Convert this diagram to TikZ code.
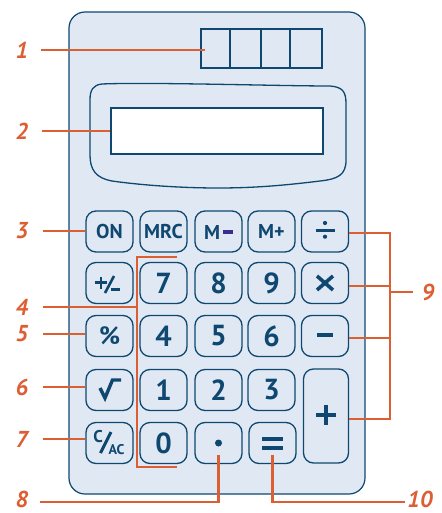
\documentclass[tikz,border=0pt]{standalone}
\usepackage{fontspec}
\setmainfont{PT Sans}
\usetikzlibrary{calc}
\definecolor{navy}{HTML}{0E4770}
\definecolor{casefill}{HTML}{E0E8F4}
\definecolor{callout}{HTML}{DC5E33}
\definecolor{memdash}{HTML}{3A2F8E}
\begin{document}
\begin{tikzpicture}[x=1pt,y=-1pt,
  casing/.style={draw=navy,fill=casefill,line width=1.2pt,rounded corners=16pt},
  key/.style={draw=navy,line width=1.3pt,rounded corners=10pt,minimum width=47pt,
    minimum height=41pt,inner sep=0pt,text=navy,font=\bfseries\fontsize{29}{29}\selectfont},
  wordkey/.style={key,font=\bfseries\fontsize{20}{20}\selectfont},
  glyph/.style={navy,line width=3.6pt},
  lbl/.style={text=callout,font=\bfseries\itshape\fontsize{23}{23}\selectfont,inner sep=0pt},
  lead/.style={draw=callout,line width=2.2pt}]
\useasboundingbox (0,0) rectangle (441,513);

% calculator body
\draw[casing] (69,12) rectangle (365,494);

% solar cell strip
\node[draw=navy,line width=1.1pt,minimum width=121pt,minimum height=39pt,inner sep=0pt]
  (panel) at (261.5,48.5) {};
\draw[navy,line width=2.6pt] (230,29) -- (230,68) (290,29) -- (290,68);
\draw[navy,line width=1.2pt] (261,29) -- (261,68);

% display bezel and screen
\draw[navy,line width=1.3pt] (102,84) .. controls (150,82) and (280,86) .. (330,86)
  .. controls (343,87) and (346,92) .. (346,104) -- (346,160)
  .. controls (346,175) and (338,179) .. (320,181)
  .. controls (280,186) and (250,188) .. (218,188)
  .. controls (180,188) and (140,185) .. (112,181)
  .. controls (96,178) and (90,170) .. (90,155) -- (90,100)
  .. controls (90,90) and (93,85) .. (102,84) -- cycle;
\node[draw=navy,fill=white,line width=1.1pt,minimum width=212pt,minimum height=46pt,inner sep=0pt]
  (screen) at (217,131) {};

% keys, row 1
\node[wordkey] (on) at (109.5,231.5) {ON};
\node[wordkey] (mrc) at (163.5,231.5) {MRC};
\node[wordkey] (mminus) at (218.5,231.5) {};
\node[wordkey] (mplus) at (271.5,231.5) {M+};
\node[key] (div) at (325,231.5) {};
% row 2
\node[key] (pm) at (109.5,283) {};
\node[key] (n7) at (163.5,283) {7};
\node[key] (n8) at (218.5,283) {8};
\node[key] (n9) at (271.5,283) {9};
\node[key] (times) at (325,283) {};
% row 3
\node[key,font=\bfseries\fontsize{25}{25}\selectfont] (pct) at (109.5,336) {\%};
\node[key] (n4) at (163.5,336) {4};
\node[key] (n5) at (218.5,336) {5};
\node[key] (n6) at (271.5,336) {6};
\node[key] (minus) at (325,336) {};
% row 4
\node[key] (sqrt) at (109.5,390) {};
\node[key] (n1) at (163.5,390) {1};
\node[key] (n2) at (218.5,390) {2};
\node[key] (n3) at (271.5,390) {3};
\node[key,minimum width=45pt,minimum height=94pt] (plus) at (326,416) {};
% row 5
\node[key] (cac) at (109.5,443) {};
\node[key] (n0) at (163.5,443) {0};
\node[key] (dot) at (218.5,443) {};
\node[key] (eq) at (272.5,443) {};

% key symbols
\node[text=navy,font=\bfseries\fontsize{20}{20}\selectfont,inner sep=0pt] (mmlabel) at (212,232) {M};
\fill[memdash] (223,230.3) rectangle (233,233.5);
\draw[glyph,line width=3pt] ($(div)+(-9.5,-1.5)$) -- ($(div)+(9.5,-1.5)$);
\fill[navy] ($(div)+(0,-8.5)$) circle (2.1) ($(div)+(0,5.2)$) circle (2.1);
\draw[glyph] ($(times)+(-8,-7)$) -- ($(times)+(8,7)$) ($(times)+(-8,7)$) -- ($(times)+(8,-7)$);
\draw[glyph,line width=4pt] ($(minus)+(-8,-1)$) -- ($(minus)+(8,-1)$);
\draw[glyph,line width=4pt] ($(plus)+(-10,-1)$) -- ($(plus)+(10,-1)$) ($(plus)+(0,-11)$) -- ($(plus)+(0,9)$);
\draw[glyph,line width=4pt] ($(eq)+(-10.5,-4.5)$) -- ($(eq)+(10.5,-4.5)$) ($(eq)+(-10.5,5)$) -- ($(eq)+(10.5,5)$);
\fill[navy] (dot) circle (3.5);
% plus/minus
\draw[glyph,line width=2.8pt] ($(pm)+(-14.5,-0.5)$) -- ($(pm)+(-2.5,-0.5)$) ($(pm)+(-8.5,-6.5)$) -- ($(pm)+(-8.5,5.5)$);
\draw[glyph,line width=2.6pt] ($(pm)+(-4.5,10)$) -- ($(pm)+(4.5,-7)$);
\draw[glyph,line width=3pt] ($(pm)+(1.5,6)$) -- ($(pm)+(10.5,6)$);
% square root
\draw[glyph,line width=3.4pt,line join=miter] ($(sqrt)+(-9.5,-2)$) -- ($(sqrt)+(-4.5,8)$) -- ($(sqrt)+(3,-10)$) -- ($(sqrt)+(11.5,-10)$);
% clear / all clear
\node[text=navy,font=\bfseries\fontsize{17}{17}\selectfont,inner sep=0pt] at ($(cac)+(-11.5,-6)$) {C};
\draw[glyph,line width=3pt] ($(cac)+(-9,10)$) -- ($(cac)+(1.5,-11)$);
\node[text=navy,font=\bfseries\fontsize{14}{14}\selectfont,inner sep=0pt] at ($(cac)+(7,6.5)$) {AC};

% callout labels
\node[lbl,minimum width=38pt] (l1) at (22,50) {1};
\node[lbl,minimum width=40pt] (l2) at (22,131) {2};
\node[lbl,minimum width=42pt] (l3) at (22,231) {3};
\node[lbl,minimum width=42pt] (l4) at (22,307) {4};
\node[lbl,minimum width=42pt] (l5) at (22,334) {5};
\node[lbl,minimum width=42pt] (l6) at (22,387) {6};
\node[lbl,minimum width=42pt] (l7) at (22,439) {7};
\node[lbl,minimum width=40pt] (l8) at (22,499) {8};
\node[lbl,minimum width=30pt] (l9) at (428,292) {9};
\node[lbl,minimum width=30pt] (l10) at (420,499) {10};

% callout end points
\coordinate (t1) at (205,50);
\coordinate (j4) at (137,307);
\coordinate (b4a) at (177,257);
\coordinate (b4b) at (177,467);
\coordinate (t8) at (218.5,455);
\coordinate (t10) at (272.5,455);
\coordinate (j9) at (390,292);
\coordinate (e8) at (40,502);
\coordinate (e10) at (405,502);

% callout leaders
\draw[lead] (l1.east) -- (t1);
\draw[lead] (l2.east) -- (screen.west |- l2.east);
\draw[lead] (l3.east) -- (on.west |- l3.east);
\draw[lead] (l4.east) -- (j4);
\draw[lead] (b4a) -| (j4) |- (b4b);
\draw[lead] (l5.east) -- (pct.west |- l5.east);
\draw[lead] (l6.east) -- (sqrt.west |- l6.east);
\draw[lead] (l7.east) -- (cac.west |- l7.east);
\draw[lead] (e8) -| (t8);
\draw[lead] (e10) -| (t10);
\draw[lead] ([yshift=-1.5]div.east) -| (j9);
\draw[lead] ([yshift=-3]times.east) -| (j9);
\draw[lead] ([yshift=-2]minus.east) -| (j9);
\draw[lead] ([yshift=-3]plus.east) -| (j9);
\draw[lead] (j9) -- (l9.west);
\end{tikzpicture}
\end{document}
